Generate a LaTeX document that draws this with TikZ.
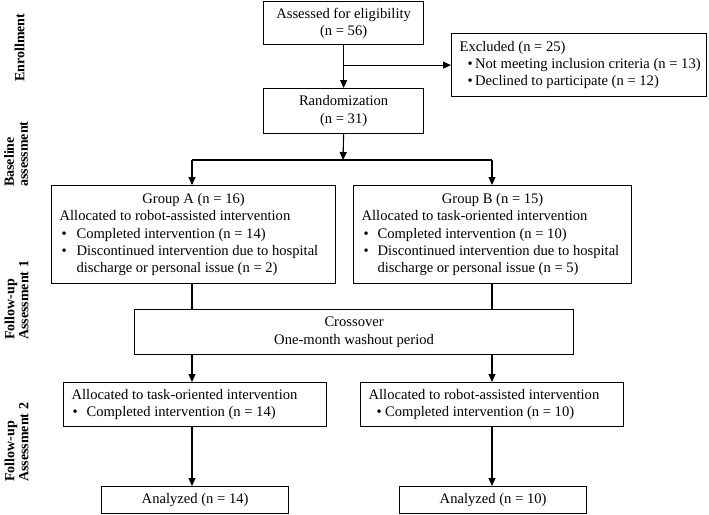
\documentclass[tikz,border=0pt]{standalone}
\usepackage{fontspec}
\setmainfont{Liberation Serif}
\usetikzlibrary{arrows.meta,calc}
\newcommand\bitem[2]{\kern#1\relax\makebox[#2][l]{\textbullet}}
\newcommand\nitem[2]{\kern#1\relax\makebox[#2][l]{}}
\newcommand\boxtext[2]{\makebox[#1][l]{\begin{tabular}{@{}l@{}}#2\end{tabular}}}
\begin{document}
\begin{tikzpicture}[x=1pt,y=-1pt,
 box/.style={draw, line width=1.2pt, anchor=north west, inner ysep=0pt, inner xsep=8pt, font=\fontsize{14.6}{17.3}\selectfont},
 cbox/.style={draw, line width=1.2pt, anchor=north west, inner sep=0pt, align=center, font=\fontsize{14.6}{17.3}\selectfont},
 arr/.style={line width=1.1pt, -{Triangle[length=8pt,width=7pt]}},
 ln/.style={line width=1.1pt},
 side/.style={rotate=90, anchor=north west, inner sep=0pt, align=left, font=\bfseries\fontsize{14}{14}\selectfont}]
\useasboundingbox (0,0) rectangle (709,514);

% side labels
\node[side] (s1) at (14.5,82) {Enrollment};
\node[side] (s2) at (4,187) {Baseline\\assessment};
\node[side] (s3) at (4.5,340) {Follow-up\\Assessment 1};
\node[side] (s4) at (4.5,482) {Follow-up\\Assessment 2};

% boxes
\node[cbox, minimum width=160pt, minimum height=43pt] (assess) at (263,1) {Assessed for eligibility\\(n = 56)};
\node[box, minimum width=255pt, minimum height=63pt] (excl) at (451,33) {\boxtext{239pt}{%
Excluded (n = 25)\\
\bitem{8pt}{7.5pt}Not meeting inclusion criteria (n = 13)\\
\bitem{8pt}{7.5pt}Declined to participate (n = 12)}};
\node[cbox, minimum width=160pt, minimum height=45pt] (rand) at (263,88) {Randomization\\(n = 31)};

\node[box, minimum width=284pt, minimum height=98pt] (ga) at (51,185) {\boxtext{268pt}{%
\makebox[268pt][c]{Group A (n = 16)}\\
Allocated to robot-assisted intervention\\
\bitem{2pt}{15pt}Completed intervention (n = 14)\\
\bitem{2pt}{15pt}Discontinued intervention due to hospital\\
\nitem{2pt}{15pt}discharge or personal issue (n = 2)}};
\node[box, minimum width=278pt, minimum height=98pt] (gb) at (353,185) {\boxtext{262pt}{%
\makebox[262pt][c]{Group B (n = 15)}\\
Allocated to task-oriented intervention\\
\bitem{2pt}{14pt}Completed intervention (n = 10)\\
\bitem{2pt}{14pt}Discontinued intervention due to hospital\\
\nitem{2pt}{14pt}discharge or personal issue (n = 5)}};

\node[cbox, minimum width=439pt, minimum height=45pt] (cross) at (134,309) {Crossover\\One-month washout period};

\node[box, minimum width=263pt, minimum height=44pt] (al) at (63,382) {\boxtext{247pt}{%
Allocated to task-oriented intervention\\
\bitem{1pt}{14pt}Completed intervention (n = 14)}};
\node[box, minimum width=263pt, minimum height=44pt] (ar) at (360,382) {\boxtext{247pt}{%
Allocated to robot-assisted intervention\\
\bitem{8pt}{8.5pt}Completed intervention (n = 10)}};

\node[cbox, minimum width=187pt, minimum height=27pt] (anl) at (101,486) {Analyzed (n = 14)};
\node[cbox, minimum width=187pt, minimum height=27pt] (anr) at (399,486) {Analyzed (n = 10)};

% connectors
\coordinate (split) at (343,160);
\coordinate (xl) at (192,0);
\coordinate (xr) at (492,0);
\draw[arr] (assess.south) -- (rand.north);
\draw[arr] (assess.south |- excl.west) -- (excl.west);
\draw[arr] (rand.south) -- (split);
\draw[ln] (xl |- split) -- (xr |- split);
\draw[arr] (xl |- split) -- (xl |- ga.north);
\draw[arr] (xr |- split) -- (xr |- gb.north);
\draw[ln] (xl |- ga.south) -- (xl |- cross.north);
\draw[ln] (xr |- gb.south) -- (xr |- cross.north);
\draw[arr] (xl |- cross.south) -- (xl |- al.north);
\draw[arr] (xr |- cross.south) -- (xr |- ar.north);
\draw[arr] (xl |- al.south) -- (xl |- anl.north);
\draw[arr] (xr |- ar.south) -- (xr |- anr.north);
\end{tikzpicture}
\end{document}
